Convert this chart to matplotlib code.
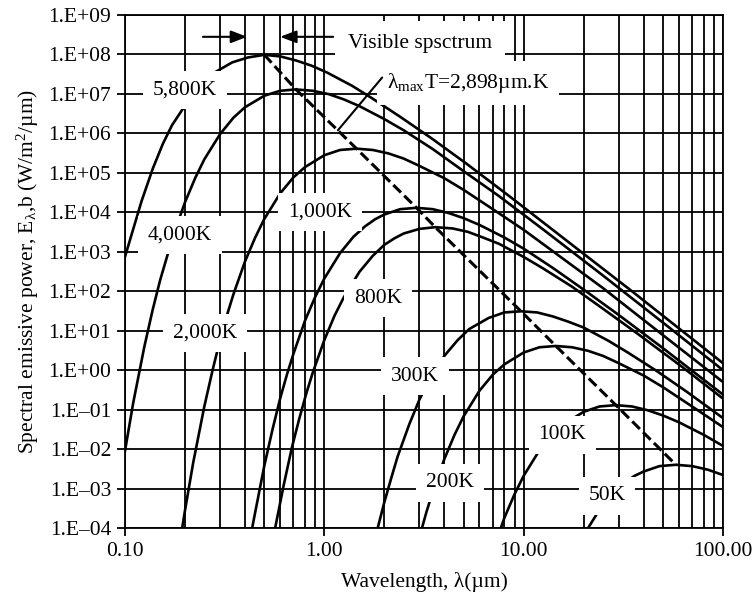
import numpy as np
import matplotlib.pyplot as plt
from matplotlib.ticker import LogLocator, NullLocator, NullFormatter

plt.rcParams['font.family'] = 'Liberation Serif'
plt.rcParams['mathtext.fontset'] = 'custom'
plt.rcParams['mathtext.rm'] = 'Liberation Serif'
plt.rcParams['mathtext.it'] = 'Liberation Serif:italic'
plt.rcParams['mathtext.default'] = 'regular'

# spectral emissive power curves (wavelength in um, W/m2/um)
wl_5800 = [0.10, 0.121, 0.138, 0.155, 0.172, 0.207, 0.241, 0.276, 0.345, 0.414, 0.50, 0.603,
           0.724, 0.862, 1.03, 1.38, 1.72, 2.41, 3.45, 5.17, 8.62, 17.2, 34.5, 100]
e_5800 = [7.5e2, 1.9e4, 1.3e5, 5.5e5, 1.6e6, 6.6e6, 1.8e7, 3.3e7, 6.3e7, 8.4e7, 9.8e7, 8.9e7,
          7.0e7, 5.2e7, 3.5e7, 1.6e7, 8.0e6, 2.6e6, 7.5e5, 1.7e5, 2.4e4, 1.6e3, 1.05e2, 1.5]

wl_4000 = [0.10, 0.11, 0.125, 0.1375, 0.15, 0.175, 0.20, 0.225, 0.25, 0.30, 0.35, 0.40, 0.50,
           0.60, 0.72, 0.875, 1.05, 1.25, 1.5, 2.0, 2.5, 3.5, 5.0, 7.5, 12.5, 25, 50, 100]
e_4000 = [9.0e-3, 0.15, 3.9, 33, 1.9e2, 2.7e3, 1.8e4, 7.4e4, 2.2e5, 9.6e5, 2.5e6, 4.6e6, 9.0e6,
          1.2e7, 1.3e7, 1.2e7, 9.9e6, 7.3e6, 4.9e6, 2.3e6, 1.2e6, 4.0e5, 1.1e5, 2.6e4, 3.7e3,
          2.5e2, 16, 1.0]

wl_2000 = [0.19, 0.20, 0.22, 0.25, 0.275, 0.30, 0.325, 0.35, 0.40, 0.45, 0.50, 0.60, 0.70, 0.80,
           1.0, 1.2, 1.45, 1.75, 2.1, 2.5, 3.0, 4.0, 5.0, 7.0, 10, 15, 25, 50, 100]
e_2000 = [5.5e-5, 2.8e-4, 4.6e-3, 0.12, 1.0, 5.9, 25, 84, 5.7e2, 2.3e3, 6.8e3, 3.0e4, 7.7e4,
          1.4e5, 2.8e5, 3.8e5, 4.1e5, 3.8e5, 3.1e5, 2.3e5, 1.5e5, 7.3e4, 3.7e4, 1.2e4, 3.6e3,
          8.0e2, 1.2e2, 7.7, 0.50]

wl_1000 = [0.43, 0.44, 0.50, 0.55, 0.60, 0.65, 0.70, 0.80, 0.90, 1.0, 1.2, 1.4, 1.6, 1.8, 2.0,
           2.4, 2.9, 3.5, 4.2, 5.0, 6.0, 8.0, 10, 14, 20, 30, 50, 100]
e_1000 = [7.5e-5, 1.4e-4, 3.8e-3, 3.2e-2, 0.19, 0.79, 2.6, 18, 72, 2.1e2, 9.3e2, 2.4e3, 4.4e3,
          6.7e3, 8.8e3, 1.2e4, 1.3e4, 1.2e4, 9.6e3, 7.1e3, 4.8e3, 2.3e3, 1.2e3, 3.9e2, 1.1e2,
          25, 3.6, 0.24]

wl_800 = [0.55, 0.625, 0.6875, 0.75, 0.8125, 0.875, 1.0, 1.125, 1.25, 1.5, 1.75, 2.0, 2.25, 2.5,
          3.0, 3.6, 4.4, 5.25, 6.25, 7.5, 10, 12.5, 17.5, 25, 37.5, 62.5, 100]
e_800 = [4.7e-5, 1.2e-3, 1.1e-2, 6.1e-2, 0.26, 0.87, 5.8, 24, 69, 3.1e2, 7.9e2, 1.5e3, 2.2e3,
         2.9e3, 3.8e3, 4.2e3, 3.9e3, 3.2e3, 2.3e3, 1.6e3, 7.4e2, 3.8e2, 1.3e2, 36, 8.2, 1.2, 0.19]

wl_300 = [1.83, 2.0, 2.17, 2.33, 2.67, 3.0, 3.33, 4.0, 4.67, 5.33, 6.67, 8.0, 9.7, 11.7, 14,
          16.7, 20, 26.7, 33.3, 46.7, 66.7, 100]
e_300 = [7.9e-5, 4.5e-4, 1.9e-3, 6.4e-3, 4.3e-2, 0.18, 0.51, 2.3, 5.8, 11, 21, 29, 31, 29, 23,
         17, 12, 5.5, 2.8, 0.94, 0.27, 0.061]

wl_200 = [3.0, 3.25, 3.5, 4.0, 4.5, 5.0, 6.0, 7.0, 8.0, 10, 12, 14.5, 17.5, 21, 25, 30, 40, 50,
          70, 100]
e_200 = [5.9e-5, 2.5e-4, 8.4e-4, 5.6e-3, 2.3e-2, 6.8e-2, 0.30, 0.77, 1.4, 2.8, 3.8, 4.1, 3.8,
         3.1, 2.3, 1.5, 0.73, 0.37, 0.12, 0.036]

wl_100 = [7.0, 8.0, 9.0, 10, 12, 14, 16, 20, 24, 29, 35, 42, 50, 60, 80, 100]
e_100 = [2.6e-5, 1.8e-4, 7.2e-4, 2.1e-3, 9.3e-3, 2.4e-2, 4.4e-2, 8.8e-2, 0.12, 0.13, 0.12,
         0.096, 0.071, 0.048, 0.023, 0.012]

wl_50 = [20, 24, 28, 32, 36, 40, 48, 58, 70, 84, 100]
e_50 = [6.6e-5, 2.9e-4, 7.5e-4, 1.4e-3, 2.1e-3, 2.7e-3, 3.7e-3, 4.0e-3, 3.7e-3, 3.0e-3, 2.2e-3]

# peaks joined by the dashed Wien line
peak_wl = [0.50, 0.72, 1.45, 2.9, 3.6, 9.7, 14.5, 29, 58]
peak_e = [9.8e7, 1.3e7, 4.1e5, 1.3e4, 4.2e3, 31, 4.1, 0.13, 4.0e-3]

temp_labels = ['5,800K', '4,000K', '2,000K', '1,000K', '800K', '300K', '200K', '100K', '50K']
label_pos = [(0.2, 1.26e7), (0.189, 2.7e3), (0.252, 8.7), (0.95, 1.0e4), (1.86, 67),
             (2.85, 0.7), (4.27, 1.4e-3), (15.6, 0.023), (26.2, 6.5e-4)]

xtick_vals = [0.1, 1, 10, 100]
xtick_labels = ['0.10', '1.00', '10.00', '100.00']
ytick_exp = list(range(-4, 10))
ytick_vals = [10.0 ** k for k in ytick_exp]
ytick_labels = ['1.E%s%02d' % ('+' if k >= 0 else '\u2013', abs(k)) for k in ytick_exp]

curves = [(wl_5800, e_5800), (wl_4000, e_4000), (wl_2000, e_2000), (wl_1000, e_1000),
          (wl_800, e_800), (wl_300, e_300), (wl_200, e_200), (wl_100, e_100), (wl_50, e_50)]

fig = plt.figure(figsize=(7.53, 5.97), dpi=100)
ax = fig.add_axes([125 / 753, 1 - 528 / 597, (723 - 125) / 753, (528 - 15) / 597])
ax.set_xscale('log')
ax.set_yscale('log')

for wl, e in curves:
    ax.plot(wl, e, color='k', lw=1.9, zorder=3)
ax.plot(peak_wl, peak_e, color='k', lw=2.2, ls=(0, (3.5, 1.5)), zorder=3)

ax.set_xlim(0.1, 100)
ax.set_ylim(1e-4, 1e9)
ax.set_xticks(xtick_vals, xtick_labels)
ax.set_yticks(ytick_vals, ytick_labels)
ax.xaxis.set_minor_locator(LogLocator(base=10, subs=np.arange(2, 10)))
ax.xaxis.set_minor_formatter(NullFormatter())
ax.yaxis.set_minor_locator(NullLocator())

ax.set_axisbelow(True)
ax.grid(which='major', color='k', lw=1.3)
ax.grid(which='minor', axis='x', color='k', lw=1.3)
ax.tick_params(which='major', direction='out', length=6, width=1.3, labelsize=15.5, pad=4)
ax.tick_params(which='minor', length=0)
for s in ax.spines.values():
    s.set_linewidth(1.3)

box = dict(boxstyle='square,pad=0.45', fc='white', ec='none')
for txt, (x, y) in zip(temp_labels, label_pos):
    ax.text(x, y, txt, ha='center', va='center', fontsize=15.5, zorder=6, bbox=box)

# visible spectrum marker
vis_y = 2.8e8
arrow = dict(arrowstyle='-|>,head_length=0.65,head_width=0.25', color='k', lw=1.5,
             shrinkA=0, shrinkB=0, mutation_scale=15)
ax.annotate('', xy=(0.41, vis_y), xytext=(0.246, vis_y), arrowprops=arrow, zorder=7)
ax.annotate('', xy=(0.60, vis_y), xytext=(1.107, vis_y), arrowprops=arrow, zorder=7)
ax.text(1.315, 1.95e8, 'Visible spsctrum', ha='left', va='center', fontsize=15.5, zorder=6,
        bbox=dict(boxstyle='square,pad=0.6', fc='white', ec='none'))

ax.text(2.06, 1.9e7, '\u03bb$_{max}$T=2,898\u00b5m.K', ha='left', va='center', fontsize=15.5,
        zorder=6, bbox=dict(boxstyle='square,pad=0.45', fc='white', ec='none'))
ax.annotate('', xy=(1.17, 1.2e6), xytext=(1.95, 2.6e7),
            arrowprops=dict(arrowstyle='-', color='k', lw=1.5, shrinkA=0, shrinkB=0), zorder=7)

ax.set_xlabel('Wavelength, \u03bb(\u00b5m)', fontsize=15.5, labelpad=8)
ax.set_ylabel('Spectral emissive power, E$_{\u03bb}$,b (W/m$^2$/\u00b5m)', fontsize=15.5,
              labelpad=5)

fig.savefig('out.png', dpi=100)
